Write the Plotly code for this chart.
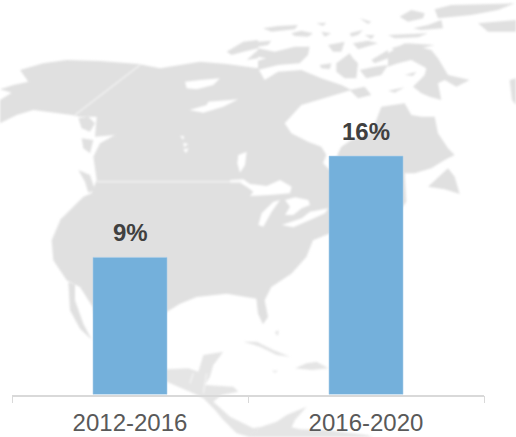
import plotly.graph_objects as go

# ---- chart data ----
periods = ["2012-2016", "2016-2020"]
values = [9.2, 16.0]
value_labels = ["9%", "16%"]

W, H = 516, 437
LAND = "#e0e0e0"
LAND_LIGHT = "#e5e5e5"

# Offsets of the traced crops of the background map
Q1, Q2, Q3, Q4 = (0, 0), (258, 0), (0, 217), (258, 217)
LK, CA, AR1, AR2 = (230, 170), (160, 340), (258, 0), (388, 0)


def q(off, pts):
    return [(off[0] + x / 3, off[1] + y / 3) for x, y in pts]


mainland = (
    q(Q1, [(0, 300), (35, 278), (0, 268), (40, 255), (85, 245), (60, 210), (130, 190), (200, 180),
           (300, 183), (415, 192), (480, 205), (600, 185), (680, 192), (774, 205)])
    + q(Q2, [(20, 240), (60, 215), (130, 210), (190, 235), (250, 255), (280, 270), (230, 285), (130, 315),
             (80, 370), (100, 400), (150, 425), (190, 440), (205, 465), (195, 490), (225, 520), (240, 460), (250, 440),
             (280, 420), (340, 400), (370, 320), (440, 310), (460, 345), (490, 350), (530, 350),
             (540, 400), (570, 445), (590, 465), (560, 480), (520, 505), (470, 520), (440, 520), (445, 605), (420, 640)])
    + q(Q4, [(213, 50), (165, 70), (145, 120), (100, 170), (40, 210), (20, 250), (30, 300), (15, 322), (0, 290), (-5, 245)])
    + q(Q3, [(680, 230), (590, 240), (540, 260), (500, 285), (480, 300), (400, 420), (300, 390),
             (278, 270), (240, 210), (200, 190), (160, 130), (155, 70), (185, 0)])
    + q(Q1, [(180, 660), (250, 590), (275, 580), (290, 540), (280, 470), (300, 430), (345, 405), (285, 410),
             (290, 350), (240, 350), (215, 345), (140, 335), (100, 330), (50, 345), (0, 370)])
)

land_parts = [
    mainland,
    # Baja California
    q(Q3, [(205, 195), (225, 203), (225, 250), (250, 320), (275, 368), (240, 335), (210, 280)]),
    # British Columbia coast islands
    q(Q1, [(235, 355), (265, 350), (285, 370), (270, 395), (245, 385)]),
    q(Q1, [(245, 415), (280, 420), (270, 460), (250, 445)]),
    q(Q1, [(235, 510), (270, 525), (285, 570), (265, 578), (255, 545)]),
    # Western Arctic
    q(Q1, [(680, 155), (730, 125), (774, 120), (774, 145), (730, 155), (695, 165)]),
    q(Q1, [(740, 180), (774, 150), (774, 175)]),
    q(Q1, [(720, 215), (774, 205), (774, 222)]),
    # Arctic islands, left crop
    q(AR1, [(0, 145), (50, 155), (110, 140), (155, 140), (150, 165), (125, 190), (60, 195), (0, 210)]),
    q(AR1, [(0, 125), (40, 122), (30, 135), (0, 140)]),
    q(AR1, [(15, 85), (60, 78), (120, 75), (110, 88), (40, 95)]),
    q(AR1, [(100, 100), (130, 92), (165, 100), (150, 110), (110, 108)]),
    q(AR1, [(190, 95), (220, 100), (200, 110)]),
    q(AR1, [(175, 70), (205, 68), (195, 78)]),
    q(AR1, [(210, 135), (260, 125), (250, 155), (225, 155)]),
    q(AR1, [(285, 130), (330, 122), (360, 130), (300, 148)]),
    q(AR1, [(185, 195), (220, 190), (215, 208), (190, 205)]),
    q(AR1, [(235, 190), (275, 160), (285, 175), (300, 190), (295, 235), (260, 235), (235, 215)]),
    q(AR1, [(275, 270), (320, 260), (340, 285), (300, 295)]),
    q(AR1, [(340, 180), (390, 150), (390, 175), (350, 190)]),
    q(AR1, [(305, 210), (350, 200), (390, 195), (370, 225), (325, 235)]),
    q(AR1, [(275, 100), (315, 90), (300, 105), (280, 110)]),
    q(AR1, [(305, 55), (340, 65), (330, 72)]),
    q(AR1, [(320, 105), (350, 105), (340, 118)]),
    # Arctic islands and Baffin, right crop
    q(AR2, [(0, 160), (50, 130), (130, 150), (150, 175), (180, 225), (245, 240), (205, 260), (170, 240),
            (150, 250), (160, 300), (125, 290), (100, 280), (75, 260), (110, 225), (115, 205), (70, 180),
            (30, 190), (0, 200)]),
    q(AR2, [(50, 225), (85, 215), (75, 228)]),
    q(AR2, [(0, 272), (50, 262), (20, 278)]),
    q(AR2, [(35, 50), (70, 30), (110, 40), (105, 55), (60, 65)]),
    q(AR2, [(140, 28), (190, 15), (380, 10), (330, 30), (250, 45), (150, 55)]),
    q(AR2, [(270, 70), (384, 60), (384, 95), (300, 95)]),
    q(AR2, [(75, 85), (120, 75), (160, 60), (165, 85), (100, 90)]),
    q(AR2, [(0, 105), (120, 100), (90, 112), (20, 115)]),
    q(AR2, [(10, 145), (60, 130), (140, 135), (100, 145), (40, 160)]),
    # Newfoundland
    q(Q2, [(510, 560), (570, 505), (590, 530), (605, 582), (560, 568)]),
    # Greenland edge
    q(AR2, [(365, 240), (384, 235), (384, 315), (372, 300)]),
]

light_parts = [
    # Mexico's south and Central America
    q(CA, [(0, 90), (20, 88), (85, 85), (115, 95), (130, 45), (190, 35), (160, 75), (150, 110), (135, 135),
           (220, 140), (235, 155), (185, 165), (160, 185), (210, 230), (280, 265), (300, 260), (290, 272),
           (270, 292), (230, 280), (190, 240), (165, 210), (130, 175), (100, 160), (20, 125), (0, 120)]),
    # South America below the axis
    q(CA, [(270, 291), (300, 262), (350, 245), (380, 225), (440, 200), (405, 240), (395, 262), (420, 268),
           (500, 270), (620, 285), (640, 291)]),
    # Caribbean
    q(CA, [(250, 5), (290, 5), (340, 30), (390, 50), (350, 45), (300, 20)]),
    q(CA, [(405, 85), (440, 70), (470, 65), (505, 85), (455, 90)]),
    q(CA, [(335, 92), (355, 92), (345, 98)]),
    q(Q4, [(50, 345), (62, 340), (60, 358)]),
]

# Lakes on top of the land
water_parts = [
    q(Q1, [(555, 245), (600, 240), (660, 235), (640, 255), (590, 268), (560, 265)]),
    q(Q1, [(568, 330), (620, 315), (625, 305), (715, 298), (670, 320), (610, 338)]),
    q(Q1, [(540, 408), (552, 408), (550, 420)]),
    q(Q1, [(550, 428), (565, 432), (552, 442)]),
    q(Q1, [(550, 448), (566, 445), (558, 460)]),
    q(Q1, [(715, 465), (740, 455), (735, 495), (720, 518), (712, 490)]),
    q(LK, [(0, 30), (40, 28), (60, 42), (110, 48), (150, 30), (185, 50), (180, 70), (120, 75), (60, 78),
           (70, 65), (50, 50), (30, 38), (0, 38)]),
    q(LK, [(130, 95), (150, 90), (125, 125), (100, 170), (85, 165), (95, 130)]),
    q(LK, [(165, 90), (195, 82), (235, 90), (240, 105), (215, 115), (190, 135), (165, 135), (180, 110)]),
    q(LK, [(155, 165), (215, 145), (240, 125), (295, 115), (285, 130), (240, 150), (190, 172)]),
    q(AR1, [(0, 170), (25, 175), (0, 182)]),
]

borders = [
    q(Q1, [(420, 195), (225, 345)]),
    q(Q1, [(290, 545), (725, 545)]),
    q(CA, [(100, 100), (90, 130)]),
    q(CA, [(140, 100), (130, 160)]),
]


def to_path(pts, close=True):
    s = "M" + " L".join(f"{x / W:.5f},{1 - y / H:.5f}" for x, y in pts)
    return s + (" Z" if close else "")


shapes = []
for part in land_parts:
    shapes.append(dict(type="path", xref="paper", yref="paper", layer="below", path=to_path(part),
                       fillcolor=LAND, line=dict(width=0)))
for part in light_parts:
    shapes.append(dict(type="path", xref="paper", yref="paper", layer="below", path=to_path(part),
                       fillcolor=LAND_LIGHT, line=dict(width=0)))
for part in water_parts:
    shapes.append(dict(type="path", xref="paper", yref="paper", layer="below", path=to_path(part),
                       fillcolor="#ffffff", line=dict(width=0)))
for part in borders:
    shapes.append(dict(type="path", xref="paper", yref="paper", layer="below", path=to_path(part, False),
                       line=dict(color="#f4f4f4", width=1.4)))

fig = go.Figure(go.Bar(
    x=periods, y=values,
    marker=dict(color="#74b0db", line=dict(color="#a9cfe9", width=0.6)),
    width=0.3136,
    hoverinfo="skip",
))

annotations = [
    dict(x=p, y=v, text=f"<b>{t}</b>", showarrow=False, yanchor="bottom", yshift=9,
         font=dict(family="Liberation Sans, Arial, sans-serif", size=24, color="#404040"))
    for p, v, t in zip(periods, values, value_labels)
]

fig.update_layout(
    width=W, height=H,
    margin=dict(l=0, r=0, t=0, b=0),
    paper_bgcolor="#ffffff",
    plot_bgcolor="rgba(0,0,0,0)",
    showlegend=False,
    shapes=shapes,
    annotations=annotations,
    xaxis=dict(
        domain=[12 / W, 484 / W],
        type="category",
        showgrid=False, zeroline=False,
        showline=True, linecolor="#d9d9d9", linewidth=1.5,
        ticks="outside", tickson="boundaries", ticklen=7, tickcolor="#d9d9d9", tickwidth=1.2,
        ticklabelstandoff=6,
        tickfont=dict(family="Liberation Sans, Arial, sans-serif", size=24, color="#595959"),
    ),
    yaxis=dict(
        domain=[(H - 394.5) / H, 1],
        range=[0, 394.5 / 14.9],
        visible=False,
    ),
)

fig.write_html(
    "out.html", config=dict(displayModeBar=False),
    post_script=(
        "document.body.style.margin='0';document.body.style.overflow='hidden';"
        "document.querySelectorAll('.layer-below .shapelayer').forEach(function(n){n.style.filter='blur(0.8px)';});"
    ),
)
